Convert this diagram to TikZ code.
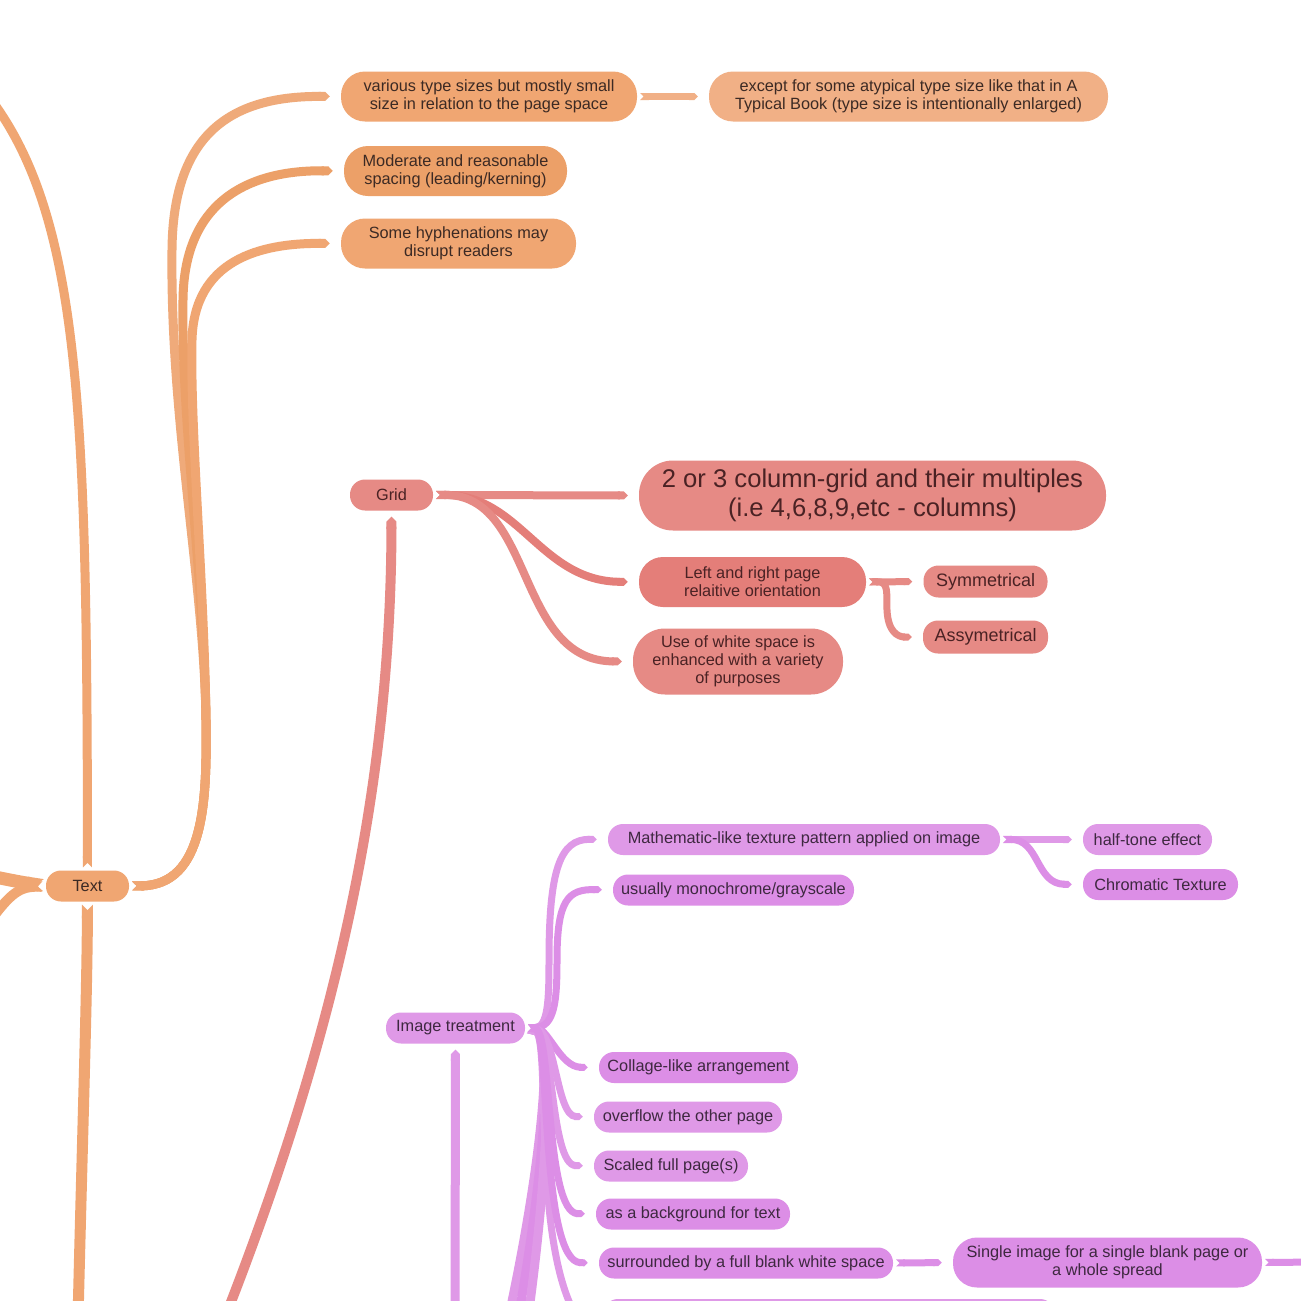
\documentclass[tikz,border=0pt]{standalone}
\usepackage{fontspec}
\setmainfont{Liberation Sans}
\usetikzlibrary{arrows.meta}
\definecolor{orA}{HTML}{F0A672}
\definecolor{orB}{HTML}{ECA068}
\definecolor{orC}{HTML}{F1B086}
\definecolor{orL}{HTML}{EFAA7A}
\definecolor{rdA}{HTML}{E68A85}
\definecolor{rdB}{HTML}{E47E79}
\definecolor{puA}{HTML}{DF99E7}
\definecolor{puB}{HTML}{DC8EE6}
\definecolor{inkO}{HTML}{3C2A24}
\definecolor{inkR}{HTML}{4A2224}
\definecolor{inkP}{HTML}{3E2840}
\begin{document}
\begin{tikzpicture}[x=1pt,y=-1pt,
 nd/.style={draw=none, align=center, inner sep=0pt, font=\fontsize{16.3}{18}\selectfont},
 s31/.style={minimum height=31pt, rounded corners=15pt},
 s50/.style={minimum height=50pt, rounded corners=24pt},
 cn/.style={line width=7pt, {Triangle Cap[reversed]}-{Triangle Cap}, shorten <=3pt, shorten >=11pt},
 cnin/.style={line width=8pt, -{Triangle Cap}, shorten >=6pt},
 cnout/.style={line width=8pt, {Triangle Cap[reversed]}-, shorten <=3pt},
]
\useasboundingbox (0,0) rectangle (1301,1301);
\fill[white] (0,0) rectangle (1301,1301);

% ---------- nodes: Text branch ----------
\node[nd, s31, fill=orA, text=inkO, minimum width=83pt] (Text) at (87.5,886) {Text};
\node[nd, s50, fill=orA, text=inkO, minimum width=296pt] (T1) at (489,96.5) {various type sizes but mostly small\\size in relation to the page space};
\node[nd, s50, fill=orC, text=inkO, minimum width=399pt] (T1a) at (908.5,96.5) {except for some atypical type size like that in A\\Typical Book (type size is intentionally enlarged)};
\node[nd, s50, fill=orB, text=inkO, minimum width=223pt] (T2) at (455.5,171) {Moderate and reasonable\\spacing (leading/kerning)};
\node[nd, s50, fill=orA, text=inkO, minimum width=235pt] (T3) at (458.5,243.5) {Some hyphenations may\\disrupt readers};

% ---------- nodes: Grid branch ----------
\node[nd, s31, fill=rdA, text=inkR, minimum width=83pt] (Grid) at (391.5,495) {Grid};
\node[nd, fill=rdA, text=inkR, minimum width=467pt, minimum height=70pt, rounded corners=34pt, font=\fontsize{25.6}{29}\selectfont] (G1) at (872.5,495.5) {2 or 3 column-grid and their multiples\\(i.e 4,6,8,9,etc - columns)};
\node[nd, s50, fill=rdB, text=inkR, minimum width=227pt] (G2) at (752.5,582) {Left and right page\\relaitive orientation};
\node[nd, fill=rdA, text=inkR, minimum width=124pt, minimum height=32pt, rounded corners=15pt, font=\fontsize{18}{21}\selectfont] (G2a) at (985.5,581.5) {Symmetrical};
\node[nd, fill=rdA, text=inkR, minimum width=125pt, minimum height=33pt, rounded corners=15pt, font=\fontsize{18}{21}\selectfont] (G2b) at (985.5,637) {Assymetrical};
\node[nd, fill=rdA, text=inkR, minimum width=210pt, minimum height=66pt, rounded corners=32pt] (G3) at (738,661.5) {Use of white space is\\enhanced with a variety\\of purposes};

% ---------- nodes: Image branch ----------
\node[nd, s31, fill=puA, text=inkP, minimum width=139pt] (Img) at (455.5,1028) {Image treatment};
\node[nd, s31, fill=puA, text=inkP, minimum width=392pt] (I1) at (804,839.5) {Mathematic-like texture pattern applied on image};
\node[nd, s31, fill=puA, text=inkP, minimum width=129pt] (I1a) at (1147.5,839.5) {half-tone effect};
\node[nd, s31, fill=puB, text=inkP, minimum width=155pt] (I1b) at (1160.5,884.5) {Chromatic Texture};
\node[nd, s31, fill=puB, text=inkP, minimum width=241pt] (I2) at (733.5,890) {usually monochrome/grayscale};
\node[nd, s31, fill=puB, text=inkP, minimum width=199pt] (I3) at (698.5,1067.5) {Collage-like arrangement};
\node[nd, s31, fill=puA, text=inkP, minimum width=188pt] (I4) at (688,1117) {overflow the other page};
\node[nd, s31, fill=puA, text=inkP, minimum width=154pt] (I5) at (671,1166) {Scaled full page(s)};
\node[nd, s31, fill=puB, text=inkP, minimum width=194pt] (I6) at (693,1214) {as a background for text};
\node[nd, s31, fill=puB, text=inkP, minimum width=294pt] (I7) at (746,1263) {surrounded by a full blank white space};
\node[nd, s50, fill=puB, text=inkP, minimum width=309pt] (I7a) at (1107.5,1262.5) {Single image for a single blank page or\\a whole spread};
\node[nd, fill=puA, minimum width=452pt, minimum height=40pt, rounded corners=15pt] (I8) at (829,1319) {};

% ---------- off-canvas coordinates ----------
\coordinate (OL1) at (-30,872);
\coordinate (OL2) at (-20,935);
\coordinate (OUp) at (-10,98);
\coordinate (ODn) at (78,1320);
\coordinate (ORd) at (224,1320);
\coordinate (OPu) at (455,1320);
\coordinate (OP1) at (507,1325);
\coordinate (OP2) at (517,1325);
\coordinate (OP3) at (527,1325);
\coordinate (OP4) at (580,1322);
\coordinate (ORt) at (1320,1262);

% ---------- connectors: Text ----------
\draw[cnout, orA, line width=13pt] (Text.west) .. controls (20,882) .. (OL1);
\draw[cnout, orA, line width=10pt] (Text.west) .. controls (15,888) and (5,900) .. (OL2);
\draw[cnout, orA, line width=9pt] (Text.north) .. controls (87,420) and (82,220) .. (OUp);
\draw[cnout, orA, line width=11pt] (Text.south) .. controls (87,1000) and (82,1150) .. (ODn);
\draw[cn, orL, line width=9pt] (Text.east) .. controls (205,885) and (207,800) .. (206,720)
  .. controls (204,580) and (170,420) .. (172,250) .. controls (173,130) and (235,96) .. (T1.west);
\draw[cn, orB, line width=9pt] (Text.east) .. controls (205,885) and (207,800) .. (206,720)
  .. controls (204,580) and (181,420) .. (183,300) .. controls (184,200) and (250,170) .. (T2.west);
\draw[cn, orA, line width=9pt] (Text.east) .. controls (205,885) and (207,800) .. (206,720)
  .. controls (204,580) and (190,430) .. (192,340) .. controls (194,260) and (260,243) .. (T3.west);
\draw[cn, orC, line width=7pt] (T1.east) -- (T1a.west);

% ---------- connectors: Grid ----------
\draw[cnin, rdA, line width=10pt] (ORd) .. controls (330,1050) and (391,800) .. (Grid.south);
\draw[cn, rdA, line width=8pt] (Grid.east) -- (G1.west);
\draw[cn, rdB, line width=8pt] (Grid.east) .. controls (520,494) and (540,581) .. (G2.west);
\draw[cn, rdA, line width=8pt] (Grid.east) .. controls (535,494) and (515,661) .. (G3.west);
\draw[cn, rdA, line width=7pt] (G2.east) -- (G2a.west);
\draw[cn, rdA, line width=7pt] (G2.east) .. controls (890,581) and (886,595) .. (887,610)
  .. controls (888,632) and (898,637) .. (G2b.west);

% ---------- connectors: Image ----------
\draw[cnin, puA, line width=9pt] (OPu) -- (Img.south);
\draw[cnout, puA, line width=9pt] (Img.east) .. controls (552,1035) and (545,1150) .. (OP1);
\draw[cnout, puB, line width=9pt] (Img.east) .. controls (552,1035) and (548,1150) .. (OP2);
\draw[cnout, puA, line width=9pt] (Img.east) .. controls (552,1035) and (550,1160) .. (OP3);
\draw[cnout, puA, line width=7pt] (Img.east) .. controls (552,1035) and (530,1250) .. (OP4);
\draw[cn, puA, line width=7pt] (Img.east) .. controls (548,1027) and (549,1000) .. (549,960)
  .. controls (549,870) and (560,839) .. (I1.west);
\draw[cn, puB, line width=7pt] (Img.east) .. controls (555,1027) and (557,1000) .. (557,960)
  .. controls (557,900) and (568,889) .. (I2.west);
\draw[cn, puB, line width=7pt] (Img.east) .. controls (548,1027) and (560,1067) .. (I3.west);
\draw[cn, puA, line width=7pt] (Img.east) .. controls (556,1030) and (556,1116) .. (I4.west);
\draw[cn, puA, line width=7pt] (Img.east) .. controls (554,1030) and (550,1165) .. (I5.west);
\draw[cn, puB, line width=7pt] (Img.east) .. controls (552,1030) and (545,1213) .. (I6.west);
\draw[cn, puB, line width=7pt] (Img.east) .. controls (550,1030) and (540,1262) .. (I7.west);
\draw[cn, puA, line width=7pt] (I1.east) -- (I1a.west);
\draw[cn, puB, line width=7pt] (I1.east) .. controls (1040,839) and (1035,884) .. (I1b.west);
\draw[cn, puB, line width=7pt] (I7.east) -- (I7a.west);
\draw[cnout, puB, line width=7pt] (I7a.east) -- (ORt);
\end{tikzpicture}
\end{document}
